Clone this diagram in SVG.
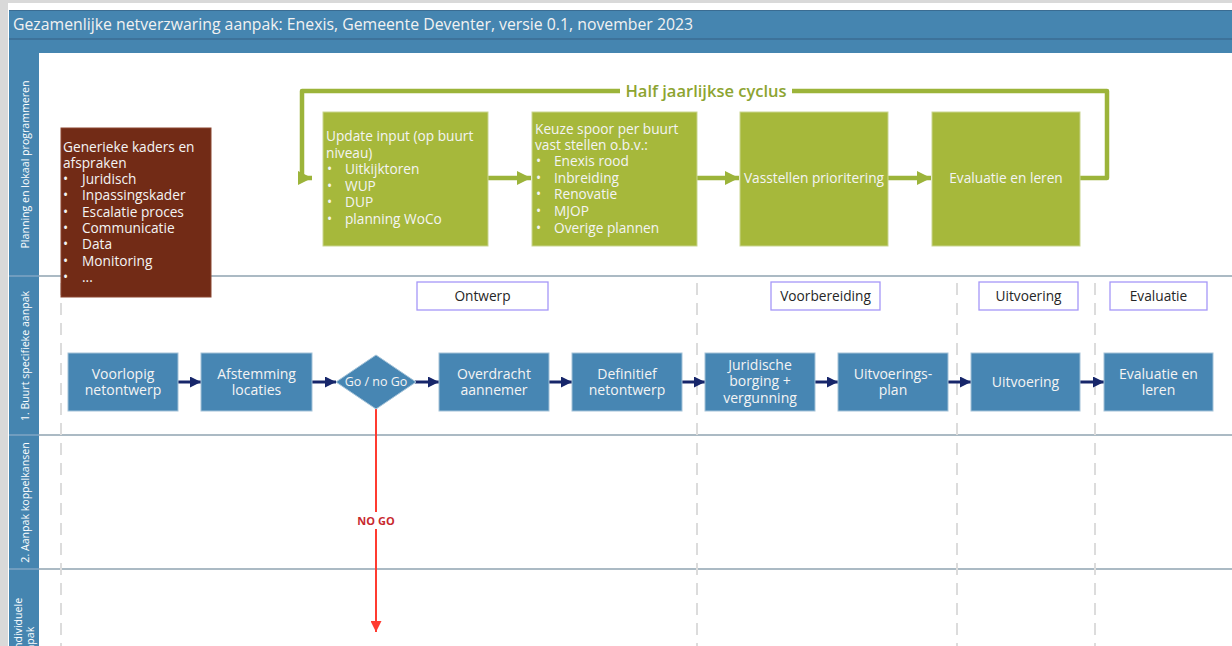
<svg xmlns="http://www.w3.org/2000/svg" width="1232" height="646" viewBox="0 0 1232 646">
<defs>
<style>
.t{font-family:"Open Sans","Noto Sans","DejaVu Sans",sans-serif;}
.w{fill:#f4f4f4;}
.bx{font-size:13.7px;}
.bl{font-size:14px;}
.gbox{fill:#a6b83b;stroke:#c9d58f;stroke-width:1;}
.bbox{fill:#4786b3;stroke:#a3c2d8;stroke-width:1;}
.phase{fill:#ffffff;stroke:#a597f7;stroke-width:1.3;}
.lane{stroke:#8fa3b1;stroke-width:1.5;}
.dash{stroke:#dcdcdc;stroke-width:2;stroke-dasharray:12 8;fill:none;}
.nav{stroke:#17266a;stroke-width:3;fill:none;}
.grn{stroke:#9cb43a;stroke-width:4.5;fill:none;stroke-linejoin:round;}
.lbl{font-size:10.6px;fill:#ffffff;}
</style>
<marker id="mNav" viewBox="0 0 10 10" markerWidth="11" markerHeight="11" refX="10" refY="5" orient="auto" markerUnits="userSpaceOnUse">
<path d="M0,0 L10,5 L0,10 z" fill="#17266a"/>
</marker>
<marker id="mGrn" viewBox="0 0 10 10" markerWidth="14" markerHeight="14" refX="10" refY="5" orient="auto" markerUnits="userSpaceOnUse">
<path d="M0,0 L10,5 L0,10 z" fill="#9cb43a"/>
</marker>
<marker id="mRed" viewBox="0 0 10 10" markerWidth="11" markerHeight="11" refX="10" refY="5" orient="auto" markerUnits="userSpaceOnUse">
<path d="M0,0 L10,5 L0,10 z" fill="#ff3b30"/>
</marker>
</defs>

<!-- page background -->
<rect x="0" y="0" width="1232" height="646" fill="#ffffff"/>
<rect x="0" y="0" width="8" height="646" fill="#d9d9d9"/>
<rect x="0" y="0" width="1232" height="3" fill="#d9d9d9"/>

<!-- header -->
<g id="header">
<rect x="9" y="10" width="1223" height="43" fill="#4585b0"/>
<line x1="9" y1="10.5" x2="1232" y2="10.5" stroke="#3a6c92" stroke-width="1"/>
<line x1="9" y1="39" x2="1232" y2="39" stroke="#3b6d93" stroke-width="1.5"/>
<text class="t" x="13" y="29.5" font-size="15.8" fill="#f2f2f2">Gezamenlijke netverzwaring aanpak: Enexis, Gemeente Deventer, versie 0.1, november 2023</text>
</g>

<!-- lane labels column -->
<g id="lanes">
<rect x="9" y="53" width="30" height="593" fill="#4585b0"/>
<line x1="9" y1="276" x2="39" y2="276" stroke="#7fa6c4" stroke-width="1.5"/>
<line x1="9" y1="435" x2="39" y2="435" stroke="#7fa6c4" stroke-width="1.5"/>
<line x1="9" y1="569" x2="39" y2="569" stroke="#7fa6c4" stroke-width="1.5"/>
<line class="lane" x1="39" y1="276" x2="1232" y2="276"/>
<line class="lane" x1="39" y1="435" x2="1232" y2="435"/>
<line class="lane" x1="39" y1="569" x2="1232" y2="569"/>
<text class="t lbl" transform="translate(28.5,164.5) rotate(-90)" text-anchor="middle">Planning en lokaal programmeren</text>
<text class="t lbl" transform="translate(28.5,356) rotate(-90)" text-anchor="middle">1. Buurt specifieke aanpak</text>
<text class="t lbl" transform="translate(28.5,502.5) rotate(-90)" text-anchor="middle">2. Aanpak koppelkansen</text>
<text class="t lbl" transform="rotate(-90)"><tspan x="-652" y="21.5">Individuele</tspan><tspan x="-663" y="34">aanpak</tspan></text>
</g>

<!-- phase dividers -->
<g id="dividers">
<line class="dash" x1="61" y1="283" x2="61" y2="646"/>
<line class="dash" x1="697" y1="283" x2="697" y2="646"/>
<line class="dash" x1="957" y1="283" x2="957" y2="646"/>
<line class="dash" x1="1095" y1="283" x2="1095" y2="646"/>
</g>

<!-- generic frameworks -->
<g id="kaders">
<rect x="61" y="128" width="150" height="169" fill="#722b16" stroke="#8b4631" stroke-width="1"/>
<text class="t bx w"><tspan x="63" y="151.5">Generieke kaders en</tspan><tspan x="63" y="167.8">afspraken</tspan><tspan x="63" y="184">•</tspan><tspan x="82" y="184">Juridisch</tspan><tspan x="63" y="200.4">•</tspan><tspan x="82" y="200.4">Inpassingskader</tspan><tspan x="63" y="216.7">•</tspan><tspan x="82" y="216.7">Escalatie proces</tspan><tspan x="63" y="233">•</tspan><tspan x="82" y="233">Communicatie</tspan><tspan x="63" y="249.4">•</tspan><tspan x="82" y="249.4">Data</tspan><tspan x="63" y="265.7">•</tspan><tspan x="82" y="265.7">Monitoring</tspan><tspan x="63" y="282">•</tspan><tspan x="82" y="282">...</tspan></text>
</g>

<!-- connectors -->
<g id="connectors">
<path class="grn" d="M1080,178 H1107 V91 H302 V178 H312" marker-end="url(#mGrn)"/>
<line class="grn" x1="488" y1="178" x2="531" y2="178" marker-end="url(#mGrn)"/>
<line class="grn" x1="697" y1="178" x2="739" y2="178" marker-end="url(#mGrn)"/>
<line class="grn" x1="888" y1="178" x2="931" y2="178" marker-end="url(#mGrn)"/>
<line class="nav" x1="178" y1="382" x2="201" y2="382" marker-end="url(#mNav)"/>
<line class="nav" x1="312" y1="382" x2="336" y2="382" marker-end="url(#mNav)"/>
<line class="nav" x1="415" y1="382" x2="439" y2="382" marker-end="url(#mNav)"/>
<line class="nav" x1="549" y1="382" x2="572" y2="382" marker-end="url(#mNav)"/>
<line class="nav" x1="682" y1="382" x2="705" y2="382" marker-end="url(#mNav)"/>
<line class="nav" x1="815" y1="382" x2="838" y2="382" marker-end="url(#mNav)"/>
<line class="nav" x1="948" y1="382" x2="971" y2="382" marker-end="url(#mNav)"/>
<line class="nav" x1="1080" y1="382" x2="1104" y2="382" marker-end="url(#mNav)"/>
<line x1="376" y1="409" x2="376" y2="512" stroke="#ff3b30" stroke-width="2"/>
<line x1="376" y1="529" x2="376" y2="632" stroke="#ff3b30" stroke-width="2" marker-end="url(#mRed)"/>
<rect x="620" y="82" width="172" height="18" fill="#ffffff"/>
<text class="t" x="706" y="97" text-anchor="middle" font-size="16.5" font-weight="600" fill="#8da431">Half jaarlijkse cyclus</text>
<text class="t" x="376" y="524.5" text-anchor="middle" font-size="11" font-weight="700" fill="#c8282e">NO GO</text>
</g>

<!-- planning cycle nodes -->
<g id="update-input">
<rect class="gbox" x="323" y="112" width="165" height="134"/>
<text class="t bx w"><tspan x="326" y="141">Update input (op buurt</tspan><tspan x="326" y="157.5">niveau)</tspan><tspan x="327" y="174.3">•</tspan><tspan x="345" y="174.3">Uitkijktoren</tspan><tspan x="327" y="190.7">•</tspan><tspan x="345" y="190.7">WUP</tspan><tspan x="327" y="207.2">•</tspan><tspan x="345" y="207.2">DUP</tspan><tspan x="327" y="223.7">•</tspan><tspan x="345" y="223.7">planning WoCo</tspan></text>
</g>
<g id="keuze-spoor">
<rect class="gbox" x="532" y="112" width="165" height="134"/>
<text class="t bx w"><tspan x="535" y="133.8">Keuze spoor per buurt</tspan><tspan x="535" y="150">vast stellen o.b.v.:</tspan><tspan x="536" y="166.2">•</tspan><tspan x="554" y="166.2">Enexis rood</tspan><tspan x="536" y="182.7">•</tspan><tspan x="554" y="182.7">Inbreiding</tspan><tspan x="536" y="199.3">•</tspan><tspan x="554" y="199.3">Renovatie</tspan><tspan x="536" y="216">•</tspan><tspan x="554" y="216">MJOP</tspan><tspan x="536" y="232.6">•</tspan><tspan x="554" y="232.6">Overige plannen</tspan></text>
</g>
<g id="vasstellen">
<rect class="gbox" x="740" y="112" width="148" height="134"/>
<text class="t bx w" x="814" y="182.5" text-anchor="middle">Vasstellen prioritering</text>
</g>
<g id="evaluatie-cyclus">
<rect class="gbox" x="932" y="112" width="148" height="134"/>
<text class="t bx w" x="1006" y="182.5" text-anchor="middle">Evaluatie en leren</text>
</g>

<!-- phase labels -->
<g id="phase-ontwerp">
<rect class="phase" x="417" y="282" width="131" height="28"/>
<text class="t bx" x="482.5" y="300.5" text-anchor="middle" fill="#262626">Ontwerp</text>
</g>
<g id="phase-voorbereiding">
<rect class="phase" x="771" y="282" width="109" height="28"/>
<text class="t bx" x="825.5" y="300.5" text-anchor="middle" fill="#262626">Voorbereiding</text>
</g>
<g id="phase-uitvoering">
<rect class="phase" x="979" y="282" width="99" height="28"/>
<text class="t bx" x="1028.5" y="300.5" text-anchor="middle" fill="#262626">Uitvoering</text>
</g>
<g id="phase-evaluatie">
<rect class="phase" x="1110" y="282" width="97" height="28"/>
<text class="t bx" x="1158.5" y="300.5" text-anchor="middle" fill="#262626">Evaluatie</text>
</g>

<!-- process nodes -->
<g id="voorlopig">
<rect class="bbox" x="68" y="353" width="110" height="58"/>
<text class="t bl w" text-anchor="middle"><tspan x="123" y="378.5">Voorlopig</tspan><tspan x="123" y="394.5">netontwerp</tspan></text>
</g>
<g id="afstemming">
<rect class="bbox" x="201" y="353" width="111" height="58"/>
<text class="t bl w" text-anchor="middle"><tspan x="256.5" y="378.5">Afstemming</tspan><tspan x="256.5" y="394.5">locaties</tspan></text>
</g>
<g id="go-nogo">
<polygon class="bbox" points="376,355 416,382 376,409 336,382"/>
<text class="t w" x="376" y="386.3" text-anchor="middle" font-size="12.5">Go / no Go</text>
</g>
<g id="overdracht">
<rect class="bbox" x="439" y="353" width="110" height="58"/>
<text class="t bl w" text-anchor="middle"><tspan x="494" y="378.5">Overdracht</tspan><tspan x="494" y="394.5">aannemer</tspan></text>
</g>
<g id="definitief">
<rect class="bbox" x="572" y="353" width="110" height="58"/>
<text class="t bl w" text-anchor="middle"><tspan x="627" y="378.5">Definitief</tspan><tspan x="627" y="394.5">netontwerp</tspan></text>
</g>
<g id="juridische">
<rect class="bbox" x="705" y="353" width="110" height="58"/>
<text class="t bl w" text-anchor="middle"><tspan x="760" y="370">Juridische</tspan><tspan x="760" y="386.3">borging +</tspan><tspan x="760" y="402.6">vergunning</tspan></text>
</g>
<g id="uitvoeringsplan">
<rect class="bbox" x="838" y="353" width="110" height="58"/>
<text class="t bl w" text-anchor="middle"><tspan x="893" y="378.5">Uitvoerings-</tspan><tspan x="893" y="394.5">plan</tspan></text>
</g>
<g id="uitvoering">
<rect class="bbox" x="971" y="353" width="109" height="58"/>
<text class="t bl w" x="1025.5" y="386.5" text-anchor="middle">Uitvoering</text>
</g>
<g id="evaluatie">
<rect class="bbox" x="1104" y="353" width="109" height="58"/>
<text class="t bl w" text-anchor="middle"><tspan x="1158.5" y="378.5">Evaluatie en</tspan><tspan x="1158.5" y="394.5">leren</tspan></text>
</g>
</svg>
